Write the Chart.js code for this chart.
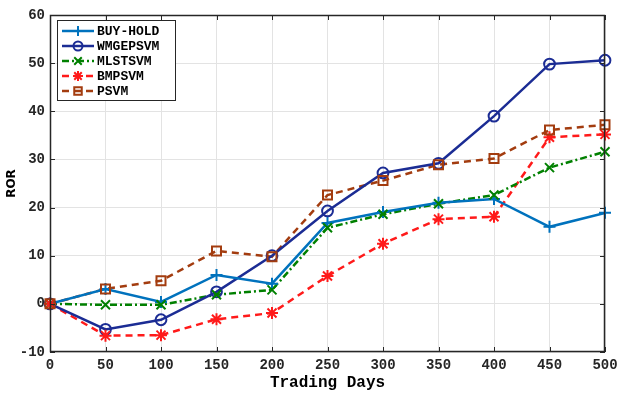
<!DOCTYPE html>
<html lang="en">
<head>
    <meta charset="UTF-8">
    <title>ROR vs Trading Days</title>
    <script src="https://cdn.jsdelivr.net/npm/chart.js"></script>
    <style>
        * { margin: 0; padding: 0; box-sizing: border-box; }
        body { background: #fff; }
        .wrap { width: 617px; height: 393px; position: relative; }
    </style>
</head>
<body>
<div class="wrap"><canvas id="rorChart"></canvas></div>
<script>
    // data
    const days = [0, 50, 100, 150, 200, 250, 300, 350, 400, 450, 500];
    const buyHold  = [0, 3.1, 0.4, 6.0, 4.2, 16.8, 19.1, 21.0, 21.8, 16.0, 18.9];
    const wmgepsvm = [0, -5.3, -3.3, 2.5, 10.0, 19.3, 27.2, 29.2, 39.0, 49.8, 50.6];
    const mlstsvm  = [0, -0.2, -0.2, 1.9, 2.9, 15.8, 18.6, 20.8, 22.6, 28.3, 31.6];
    const bmpsvm   = [0, -6.6, -6.5, -3.2, -1.9, 5.8, 12.5, 17.6, 18.1, 34.6, 35.2];
    const psvm     = [0, 3.1, 4.8, 11.0, 9.8, 22.6, 25.6, 28.9, 30.2, 36.1, 37.2];
    const seriesNames = ['BUY-HOLD', 'WMGEPSVM', 'MLSTSVM', 'BMPSVM', 'PSVM'];

    const mono = '"Liberation Mono", "DejaVu Sans Mono", monospace';
    const axisColor = '#262626';

    function pts(arr) {
        return days.map((d, i) => ({ x: d, y: arr[i] }));
    }

    // draw a marker the same way as the lines use them
    function drawMarker(ctx, style, x, y, r, color) {
        ctx.save();
        ctx.strokeStyle = color;
        ctx.lineWidth = 2;
        ctx.setLineDash([]);
        ctx.beginPath();
        if (style === 'cross') {
            ctx.moveTo(x - r, y); ctx.lineTo(x + r, y);
            ctx.moveTo(x, y - r); ctx.lineTo(x, y + r);
        } else if (style === 'crossRot') {
            let k = r * 0.75;
            ctx.moveTo(x - k, y - k); ctx.lineTo(x + k, y + k);
            ctx.moveTo(x - k, y + k); ctx.lineTo(x + k, y - k);
        } else if (style === 'circle') {
            ctx.arc(x, y, r * 0.9, 0, Math.PI * 2);
        } else if (style === 'star') {
            ctx.moveTo(x - r, y); ctx.lineTo(x + r, y);
            ctx.moveTo(x, y - r); ctx.lineTo(x, y + r);
            let k = r * 0.75;
            ctx.moveTo(x - k, y - k); ctx.lineTo(x + k, y + k);
            ctx.moveTo(x - k, y + k); ctx.lineTo(x + k, y - k);
        } else if (style === 'rect') {
            let k = r * 0.75;
            ctx.rect(x - k, y - k, 2 * k, 2 * k);
        }
        ctx.stroke();
        ctx.restore();
    }

    // frame, inward ticks and legend box (MATLAB look)
    const framePlugin = {
        id: 'framePlugin',
        afterDraw(chart) {
            const ctx = chart.ctx;
            const a = chart.chartArea;
            const xs = chart.scales.x, ys = chart.scales.y;
            ctx.save();
            ctx.strokeStyle = axisColor;
            ctx.lineWidth = 1.5;
            ctx.setLineDash([]);
            ctx.strokeRect(a.left + 0.5, a.top + 0.5, a.right - a.left - 1, a.bottom - a.top - 1);
            ctx.lineWidth = 1;
            ctx.beginPath();
            xs.ticks.forEach(t => {
                const px = Math.round(xs.getPixelForValue(t.value)) + 0.5;
                ctx.moveTo(px, a.bottom); ctx.lineTo(px, a.bottom - 5);
                ctx.moveTo(px, a.top); ctx.lineTo(px, a.top + 5);
            });
            ys.ticks.forEach(t => {
                const py = Math.round(ys.getPixelForValue(t.value)) + 0.5;
                ctx.moveTo(a.left, py); ctx.lineTo(a.left + 5, py);
                ctx.moveTo(a.right, py); ctx.lineTo(a.right - 5, py);
            });
            ctx.stroke();

            // legend
            const lx = 57, ly = 20, lw = 118, lh = 80;
            ctx.fillStyle = '#fff';
            ctx.fillRect(lx, ly, lw, lh);
            ctx.strokeStyle = axisColor;
            ctx.strokeRect(lx + 0.5, ly + 0.5, lw, lh);
            ctx.font = 'bold 13px ' + mono;
            ctx.textBaseline = 'middle';
            ctx.fillStyle = '#000';
            chart.data.datasets.forEach((ds, i) => {
                const y = ly + 11 + i * 15;
                ctx.save();
                ctx.strokeStyle = ds.borderColor;
                ctx.lineWidth = 2.5;
                ctx.setLineDash(ds.borderDash || []);
                ctx.beginPath();
                ctx.moveTo(62, y); ctx.lineTo(94, y);
                ctx.stroke();
                ctx.restore();
                drawMarker(ctx, ds.pointStyle, 78, y, 5, ds.borderColor);
                ctx.fillStyle = '#000';
                ctx.fillText(ds.label, 97, y + 1);
            });
            ctx.restore();
        }
    };

    // custom markers drawn on top of the lines
    const markerPlugin = {
        id: 'markerPlugin',
        afterDatasetsDraw(chart) {
            const ctx = chart.ctx;
            chart.data.datasets.forEach((ds, i) => {
                const meta = chart.getDatasetMeta(i);
                meta.data.forEach(p => drawMarker(ctx, ds.pointStyle, p.x, p.y, 6, ds.borderColor));
            });
        }
    };

    function makeSet(label, arr, color, dash, marker) {
        return {
            label: label,
            data: pts(arr),
            borderColor: color,
            backgroundColor: color,
            borderWidth: 2.5,
            borderDash: dash,
            pointStyle: marker,
            pointRadius: 0,
            pointHoverRadius: 0,
            fill: false,
            tension: 0
        };
    }

    const ctx = document.getElementById('rorChart').getContext('2d');
    const chart = new Chart(ctx, {
        type: 'line',
        data: {
            datasets: [
                makeSet(seriesNames[0], buyHold, '#0072BD', [], 'cross'),
                makeSet(seriesNames[1], wmgepsvm, '#1B2C94', [], 'circle'),
                makeSet(seriesNames[2], mlstsvm, '#008000', [7, 3, 2, 3], 'crossRot'),
                makeSet(seriesNames[3], bmpsvm, '#FF1A1A', [7, 5], 'star'),
                makeSet(seriesNames[4], psvm, '#A33C0F', [7, 5], 'rect')
            ]
        },
        options: {
            responsive: true,
            maintainAspectRatio: false,
            animation: false,
            layout: { padding: { top: 15, right: 12, left: 5, bottom: 0 } },
            plugins: {
                legend: { display: false },
                tooltip: { enabled: false }
            },
            scales: {
                x: {
                    type: 'linear',
                    min: 0, max: 500,
                    ticks: { stepSize: 50, color: axisColor, font: { family: mono, size: 14, weight: 'bold' }, padding: 5 },
                    grid: { color: '#e3e3e3', drawTicks: false },
                    border: { display: false },
                    title: { display: true, text: 'Trading Days', color: '#000',
                             font: { family: mono, size: 16, weight: 'bold' }, padding: { top: 2, bottom: 0 } },
                    afterFit(scale) {
                        scale.height = 41;
                        scale.paddingRight = 0;
                        scale.paddingLeft = 0;
                    }
                },
                y: {
                    min: -10, max: 60,
                    ticks: { stepSize: 10, color: axisColor, font: { family: mono, size: 14, weight: 'bold' }, padding: 5 },
                    grid: { color: '#e3e3e3', drawTicks: false },
                    border: { display: false },
                    title: { display: true, text: 'ROR', color: '#000',
                             font: { family: '"DejaVu Sans", sans-serif', size: 12, weight: 'bold' }, padding: 0 },
                    afterFit(scale) {
                        scale.width = 45;
                        scale.paddingTop = 0;
                        scale.paddingBottom = 0;
                    }
                }
            }
        },
        plugins: [markerPlugin, framePlugin]
    });
</script>
</body>
</html>
